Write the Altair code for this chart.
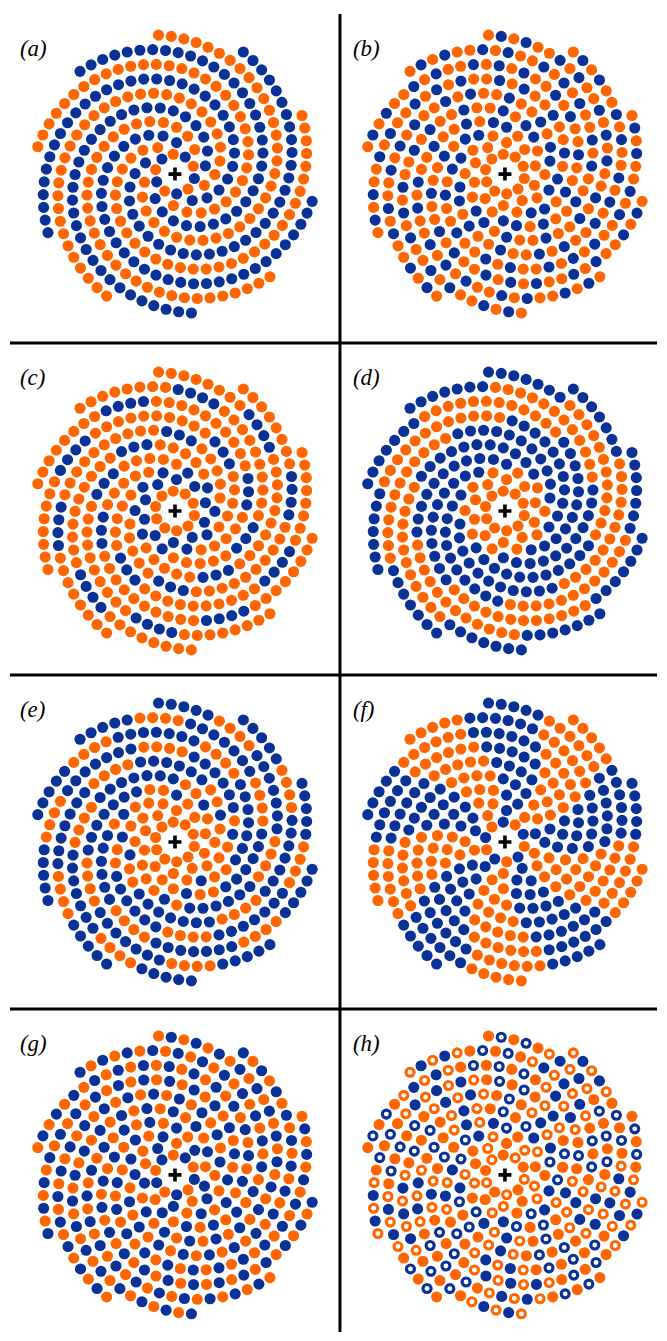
import math
import altair as alt
import pandas as pd

# ---------------- data / parameters ----------------
PANEL_LABELS = ["(a)", "(b)", "(c)", "(d)", "(e)", "(f)", "(g)", "(h)"]
COLOR_NAMES = ["orange", "blue"]
COLOR_VALUES = ["#FF6600", "#0A3296"]

# spiral lattice: K interleaved arms of equally spaced dots
K_ARMS = 10
ARM_GAP = 15.0      # radial distance between neighbouring arms
DOT_STEP = 12.7     # spacing of dots along an arm
R_IN = 20.0
R_OUT = 142.0
PHASE_DEG = 23.0

# ring bands
C_BLUE_RINGS = [37, 77, 118]
C_HALF = 5.5
D_BLUE_BANDS = [(47, 92), (127, 999)]
E_ORANGE_CORE = 64
E_ORANGE_RINGS = [96, 126]
E_HALF = 5.5
# (f): five blue sectors (degrees, counter-clockwise from the right)
F_BLUE_START = 352
F_PERIOD = 72
F_WIDTH = 36
F_TWIST = 10        # degrees of twist from core to rim
F_CORE = 46
B_NEIGHBOUR = 13.8

COL_W = [332, 319]
ROW_H = [331, 334, 336, 325]
CENTER_X = [166, 166]
CENTER_Y = [161, 169, 168, 167]


def lattice():
    b = K_ARMS * ARM_GAP / (2 * math.pi)
    pts = []
    for a in range(K_ARMS):
        j = 0
        while True:
            r = math.sqrt(R_IN ** 2 + 2 * b * DOT_STEP * j)
            if r > R_OUT:
                break
            th = math.radians(PHASE_DEG) + 2 * math.pi * a / K_ARMS + (r - R_IN) / b
            pts.append((a, j, r, th, r * math.cos(th), r * math.sin(th)))
            j += 1
    return pts


PTS = lattice()


def bit_g(a, j, r, th):
    return (a + j) % 2


def bit_f(a, j, r, th):
    if r < F_CORE:
        return 1 - bit_g(a, j, r, th)
    deg = (math.degrees(th) - F_TWIST * (r - F_CORE) / (R_OUT - F_CORE)) % 360
    return 1 if (deg - F_BLUE_START) % F_PERIOD < F_WIDTH else 0


def bit_c(a, j, r, th):
    return 1 if any(abs(r - c) <= C_HALF for c in C_BLUE_RINGS) else 0


def bit_d(a, j, r, th):
    return 1 if any(lo <= r < hi for lo, hi in D_BLUE_BANDS) else 0


def bit_e(a, j, r, th):
    if r < E_ORANGE_CORE:
        return 1 if (r > 44 and (a + j) % 3 == 0) else 0
    return 0 if any(abs(r - c) <= E_HALF for c in E_ORANGE_RINGS) else 1


def bits_b():
    # checkerboard flipped in the orange sectors of (f); blue kept isolated
    raw = [1 - (bit_g(*p[:4]) ^ bit_f(*p[:4])) for p in PTS]
    order = sorted(range(len(PTS)), key=lambda i: (PTS[i][2], PTS[i][3] % (2 * math.pi)))
    kept = []
    out = [0] * len(PTS)
    for i in order:
        if raw[i] != 1:
            continue
        xi, yi = PTS[i][4], PTS[i][5]
        if all((xi - PTS[k][4]) ** 2 + (yi - PTS[k][5]) ** 2 > B_NEIGHBOUR ** 2 for k in kept):
            kept.append(i)
            out[i] = 1
    return out


B_BITS = bits_b()


def colour(panel, i):
    a, j, r, th = PTS[i][:4]
    if panel == 0:
        v = a % 2
    elif panel == 1:
        v = B_BITS[i]
    elif panel == 2:
        v = bit_c(a, j, r, th)
    elif panel == 3:
        v = bit_d(a, j, r, th)
    elif panel == 4:
        v = bit_e(a, j, r, th)
    elif panel == 5:
        v = bit_f(a, j, r, th)
    elif panel == 6:
        v = bit_g(a, j, r, th)
    else:
        return COLOR_NAMES[B_BITS[i]], bit_g(a, j, r, th) == 1
    return COLOR_NAMES[v], False


def panel_chart(idx):
    row, col = divmod(idx, 2)
    W, H = COL_W[col], ROW_H[row]
    cx, cy = CENTER_X[col], CENTER_Y[row]
    recs = []
    for i, p in enumerate(PTS):
        c, hol = colour(idx, i)
        recs.append({"x": p[4], "y": p[5], "c": c, "hollow": hol})
    df = pd.DataFrame(recs)
    xs = alt.Scale(domain=[-cx, W - cx], nice=False, zero=False)
    ys = alt.Scale(domain=[-(H - cy), cy], nice=False, zero=False)
    base = alt.Chart(df).encode(
        x=alt.X("x:Q", scale=xs, axis=None),
        y=alt.Y("y:Q", scale=ys, axis=None),
    )
    dots = base.mark_circle(size=125, opacity=1).encode(
        color=alt.Color("c:N", scale=alt.Scale(domain=COLOR_NAMES, range=COLOR_VALUES), legend=None)
    )
    holes = base.transform_filter("datum.hollow").mark_circle(size=24, opacity=1, color="white")
    cross = alt.Chart(pd.DataFrame({"x": [0], "y": [0]})).mark_point(
        shape="M-1,-0.28H1V0.28H-1Z M-0.28,-1H0.28V1H-0.28Z",
        size=170, filled=True, opacity=1, color="black", strokeWidth=0,
    ).encode(x=alt.X("x:Q", scale=xs, axis=None), y=alt.Y("y:Q", scale=ys, axis=None))
    label = alt.Chart(pd.DataFrame({"t": [PANEL_LABELS[idx]]})).mark_text(
        font="Liberation Serif", fontStyle="italic", fontSize=23, align="left", baseline="middle", color="black"
    ).encode(text="t:N", x=alt.value(10 if col == 0 else 13), y=alt.value(35))
    layers = [dots, holes, cross, label]
    one = pd.DataFrame({"k": [0]})
    if col == 0:
        layers.append(alt.Chart(one).mark_rule(color="black", strokeWidth=3).encode(
            x=alt.value(W), y=alt.value(0), y2=alt.value(H)))
    if row < 3:
        layers.append(alt.Chart(one).mark_rule(color="black", strokeWidth=3).encode(
            x=alt.value(0), x2=alt.value(W), y=alt.value(H)))
    return alt.layer(*layers).properties(width=W, height=H)


chart = alt.concat(*[panel_chart(i) for i in range(8)], columns=2, spacing=0, bounds="flush") \
    .properties(padding=0).configure_view(strokeWidth=0)
chart.save("out.html", embed_options={"renderer": "svg", "actions": False})
